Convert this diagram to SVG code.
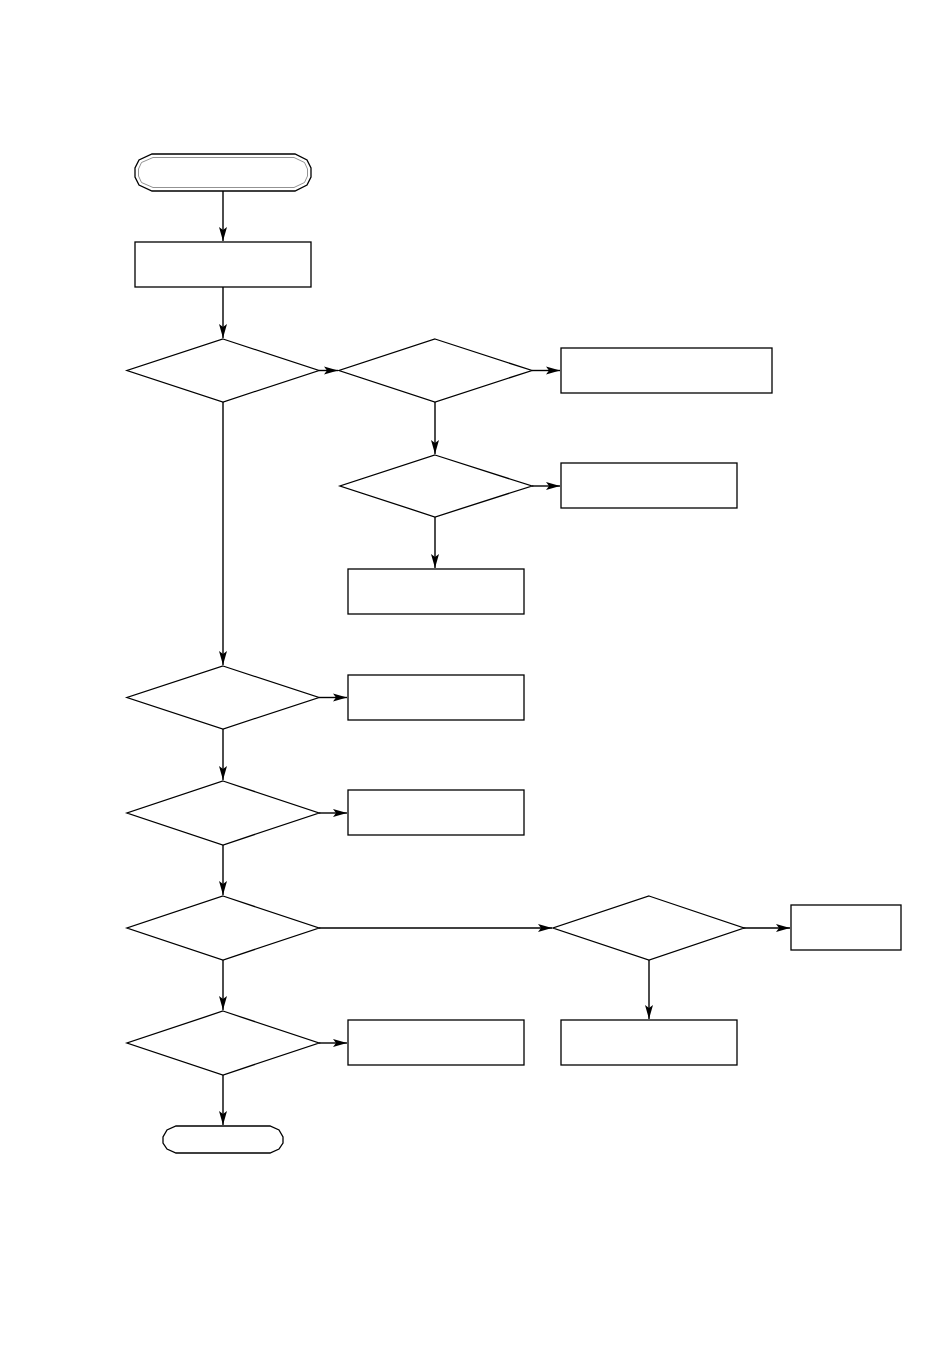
<svg xmlns="http://www.w3.org/2000/svg" width="950" height="1360" viewBox="0 0 950 1360">
<style>
.n{fill:#fff;stroke:#000;stroke-width:1.3}
.c{fill:none;stroke:#000;stroke-width:1.4;marker-end:url(#a)}
.in{fill:none;stroke:#777;stroke-width:0.8}
</style>
<defs>
<marker id="a" markerUnits="userSpaceOnUse" markerWidth="16" markerHeight="10" refX="14" refY="4.5" orient="auto">
<path d="M0,0.5 L14,4.5 L0,8.5 L3,4.5 Z" fill="#000"/>
</marker>
</defs>
<rect width="950" height="1360" fill="#fff"/>
<g id="connectors">
<path class="c" d="M223,191 V241"/>
<path class="c" d="M223,287 V338"/>
<path class="c" d="M319,370.5 H338"/>
<path class="c" d="M532,370.5 H560"/>
<path class="c" d="M435,402 V454"/>
<path class="c" d="M532,486 H560"/>
<path class="c" d="M435,517 V568"/>
<path class="c" d="M223,402 V665"/>
<path class="c" d="M319,697.5 H347"/>
<path class="c" d="M223,729 V780"/>
<path class="c" d="M319,813 H347"/>
<path class="c" d="M223,845 V895"/>
<path class="c" d="M319,928 H552"/>
<path class="c" d="M743,928 H790"/>
<path class="c" d="M649,960 V1019"/>
<path class="c" d="M223,960 V1010"/>
<path class="c" d="M319,1043 H347"/>
<path class="c" d="M223,1075 V1125"/>
</g>
<g id="start">
<path class="n" stroke-width="1.8" d="M152,154 H295 L307,160 L311,168 V177 L307,185 L295,191 H152 L139,185 L135,177 V168 L139,160 Z"/>
<path class="in" d="M153,157.5 H294 L304.5,162.5 L307.5,169 V176 L304.5,182.5 L294,187.5 H153 L141.5,182.5 L138.5,176 V169 L141.5,162.5 Z"/>
</g>
<g id="box1"><rect class="n" x="135" y="242" width="176" height="45"/></g>
<g id="dec1"><path class="n" d="M223,339 L319,370.5 L223,402 L127,370.5 Z"/></g>
<g id="dec2"><path class="n" d="M435,339 L532,370.5 L435,402 L339,370.5 Z"/></g>
<g id="box2"><rect class="n" x="561" y="348" width="211" height="45"/></g>
<g id="dec3"><path class="n" d="M435,455 L532,486 L435,517 L340,486 Z"/></g>
<g id="box3"><rect class="n" x="561" y="463" width="176" height="45"/></g>
<g id="box4"><rect class="n" x="348" y="569" width="176" height="45"/></g>
<g id="dec4"><path class="n" d="M223,666 L319,697.5 L223,729 L127,697.5 Z"/></g>
<g id="box5"><rect class="n" x="348" y="675" width="176" height="45"/></g>
<g id="dec5"><path class="n" d="M223,781 L319,813 L223,845 L127,813 Z"/></g>
<g id="box6"><rect class="n" x="348" y="790" width="176" height="45"/></g>
<g id="dec6"><path class="n" d="M223,896 L319,928 L223,960 L127,928 Z"/></g>
<g id="dec7"><path class="n" d="M649,896 L744,928 L649,960 L553,928 Z"/></g>
<g id="box7"><rect class="n" x="791" y="905" width="110" height="45"/></g>
<g id="box8"><rect class="n" x="561" y="1020" width="176" height="45"/></g>
<g id="dec8"><path class="n" d="M223,1011 L319,1043 L223,1075 L127,1043 Z"/></g>
<g id="box9"><rect class="n" x="348" y="1020" width="176" height="45"/></g>
<g id="end"><path class="n" d="M176,1126 H270 L279,1130 L283,1137 V1143 L279,1149 L270,1153 H176 L167,1149 L163,1143 V1137 L167,1130 Z"/></g>
</svg>
